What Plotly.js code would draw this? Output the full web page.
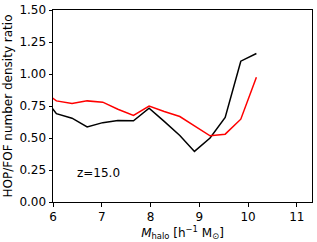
<!DOCTYPE html>
<html><head><meta charset="utf-8">
<script src="https://cdn.plot.ly/plotly-3.0.1.min.js"></script>
<style>html,body{margin:0;padding:0;background:#fff;}#c{width:317px;height:242px;}</style>
</head><body><div id="c"></div>
<script>
const massBins = [5.75, 6.07, 6.39, 6.70, 7.02, 7.33, 7.65, 7.97, 8.28, 8.60, 8.90, 9.22, 9.53, 9.85, 10.17];
const ratioBlack = [0.85, 0.69, 0.655, 0.587, 0.62, 0.637, 0.634, 0.733, 0.63, 0.52, 0.395, 0.50, 0.66, 1.10, 1.16];
const ratioRed = [0.88, 0.79, 0.77, 0.79, 0.78, 0.725, 0.676, 0.75, 0.707, 0.668, 0.595, 0.517, 0.53, 0.647, 0.975];
const yTicks = [0, 0.25, 0.5, 0.75, 1.0, 1.25, 1.5];
const yTickText = ['0.00', '0.25', '0.50', '0.75', '1.00', '1.25', '1.50'];
const xTicks = [6, 7, 8, 9, 10, 11];
const label = 'z=15.0';

const font = {family: 'DejaVu Sans', size: 12, color: '#000'};
const traces = [
  {x: massBins, y: ratioBlack, mode: 'lines', line: {color: '#000000', width: 1.5}, showlegend: false, cliponaxis: true},
  {x: massBins, y: ratioRed, mode: 'lines', line: {color: '#ff0000', width: 1.5}, showlegend: false, cliponaxis: true}
];
const axisCommon = {showline: true, mirror: true, linecolor: '#000', linewidth: 1, ticks: 'outside', ticklen: 3.5, tickwidth: 1, tickcolor: '#000', showgrid: false, zeroline: false, tickfont: font};
const layout = {
  width: 317, height: 242,
  margin: {l: 53, r: 5, t: 10, b: 40},
  paper_bgcolor: '#fff', plot_bgcolor: '#fff',
  font: font,
  xaxis: Object.assign({}, axisCommon, {range: [6, 11.31], tickvals: xTicks, ticktext: xTicks.map(String),
    title: {text: '<i>M</i><sub>halo</sub> [h<sup>−1</sup> M<sub>⊙</sub>]', font: font, standoff: 0}}),
  yaxis: Object.assign({}, axisCommon, {range: [0, 1.5], tickvals: yTicks, ticktext: yTickText,
    title: {text: 'HOP/FOF number density ratio', font: font, standoff: 4}}),
  annotations: [{x: 6.45, y: 0.226, xref: 'x', yref: 'y', text: label, showarrow: false, xanchor: 'left', yanchor: 'middle', font: font}]
};
Plotly.newPlot('c', traces, layout, {staticPlot: true, displayModeBar: false});
</script></body></html>
